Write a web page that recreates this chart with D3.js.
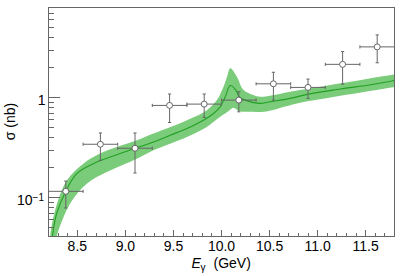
<!DOCTYPE html>
<html><head><meta charset="utf-8">
<script src="https://cdn.jsdelivr.net/npm/d3@7"></script>
<style>body{margin:0;background:#fff}svg{display:block}text{font-family:"Liberation Sans",Arial,Helvetica,sans-serif;fill:#000}</style>
</head><body>
<svg id="c" width="407" height="276"></svg>
<script>
// ---- data points (bin centres, cross sections, asymmetric errors) ----
const pointE     = [8.38, 8.74, 9.10, 9.46, 9.82, 10.18, 10.54, 10.90, 11.26, 11.62];
const pointSigma = [0.116, 0.343, 0.313, 0.839, 0.865, 0.948, 1.38, 1.27, 2.16, 3.23];
const pointUp    = [0.147, 0.445, 0.445, 1.09, 1.09, 1.15, 1.80, 1.54, 2.90, 4.26];
const pointLow   = [0.079, 0.237, 0.177, 0.566, 0.636, 0.724, 0.948, 0.986, 1.37, 2.24];
const binHalf    = [0.18, 0.18, 0.18, 0.18, 0.18, 0.18, 0.18, 0.18, 0.18, 0.18];

// ---- model curve (central) ----
const curveE     = [8.225, 8.240, 8.285, 8.379, 8.494, 8.667, 8.841, 9.101, 9.292, 9.466, 9.640, 9.813, 9.917, 9.986, 10.039, 10.091, 10.15, 10.185, 10.26, 10.333, 10.403, 10.507, 10.716, 10.903, 11.236, 11.57, 11.82];
const curveSigma = [0.030, 0.0409, 0.0696, 0.1157, 0.174, 0.2195, 0.2557, 0.3126, 0.3616, 0.422, 0.493, 0.597, 0.697, 0.812, 1.023, 1.326, 1.195, 1.023, 0.937, 0.895, 0.879, 0.912, 0.986, 1.089, 1.223, 1.357, 1.51];

// ---- uncertainty band edges ----
const bandUpE    = [8.205, 8.216, 8.268, 8.39, 8.5625, 8.736, 8.91, 9.119, 9.292, 9.64, 9.848, 9.952, 10.021, 10.06, 10.091, 10.16, 10.229, 10.333, 10.403, 10.716, 10.82, 11.85];
const bandUpS    = [0.030, 0.041, 0.0746, 0.149, 0.2195, 0.2766, 0.322, 0.376, 0.439, 0.597, 0.752, 0.948, 1.289, 1.652, 1.973, 1.625, 1.195, 1.064, 1.023, 1.149, 1.195, 1.75];
const bandLowE   = [8.265, 8.285, 8.424, 8.598, 8.806, 9.119, 9.292, 9.64, 9.848, 9.986, 10.06, 10.125, 10.185, 10.333, 10.4375, 10.716, 10.82, 11.85];
const bandLowS   = [0.030, 0.0409, 0.0871, 0.1382, 0.1807, 0.2463, 0.2985, 0.406, 0.5114, 0.6446, 0.72, 0.797, 0.7354, 0.7235, 0.7235, 0.8446, 0.891, 1.30];

// ---- axes ----
const xMajor  = [8.5, 9.0, 9.5, 10.0, 10.5, 11.0, 11.5];
const xLabels = ["8.5", "9.0", "9.5", "10.0", "10.5", "11.0", "11.5"];
const yMajor  = [0.1, 1];
const yMinor  = [0.05, 0.06, 0.07, 0.08, 0.09, 0.2, 0.3, 0.4, 0.5, 0.6, 0.7, 0.8, 0.9, 2, 3, 4, 5, 6, 7, 8];

const L = 48.5, R = 394.5, T = 7.5, B = 236.5;
const x = d3.scaleLinear().domain([8.2, 11.8]).range([L, R]);
const y = d3.scaleLog().domain([0.041, 8]).range([B, T]);

const svg = d3.select("#c");
svg.append("defs").append("clipPath").attr("id", "clip")
  .append("rect").attr("x", L).attr("y", T).attr("width", R - L).attr("height", B - T);

const g = svg.append("g").attr("clip-path", "url(#clip)");

// band polygon
const up = bandUpE.map((e, i) => [e, bandUpS[i]]);
const lo = bandLowE.map((e, i) => [e, bandLowS[i]]).reverse();
const lineGen = d3.line().x(d => x(d[0])).y(d => y(d[1])).curve(d3.curveCatmullRom.alpha(0.5));
g.append("path").attr("d", lineGen(up) + "L" + lineGen(lo).slice(1) + "Z")
  .attr("fill", "#7acb7a").attr("stroke", "none");

// central curve
g.append("path").attr("d", lineGen(curveE.map((e, i) => [e, curveSigma[i]])))
  .attr("fill", "none").attr("stroke", "#22a022").attr("stroke-width", 1.1);

// frame
const ax = svg.append("g").attr("stroke", "#666").attr("stroke-width", 1).attr("fill", "none").attr("shape-rendering", "crispEdges");
ax.append("rect").attr("x", L).attr("y", T).attr("width", R - L).attr("height", B - T);

// x ticks
const xMinor = d3.range(82, 119).map(v => v / 10).filter(v => !xMajor.some(m => Math.abs(m - v) < 1e-6));
xMinor.forEach(v => ax.append("line").attr("x1", x(v)).attr("x2", x(v)).attr("y1", B).attr("y2", B - 3.5));
xMajor.forEach(v => ax.append("line").attr("x1", x(v)).attr("x2", x(v)).attr("y1", B).attr("y2", B - 7));
// y ticks
yMinor.forEach(v => ax.append("line").attr("x1", L).attr("x2", L + 5.5).attr("y1", y(v)).attr("y2", y(v)));
yMajor.forEach(v => ax.append("line").attr("x1", L).attr("x2", L + 11).attr("y1", y(v)).attr("y2", y(v)));

// x tick labels
xMajor.forEach((v, i) => svg.append("text").attr("x", x(v)).attr("y", 251)
  .attr("text-anchor", "middle").attr("font-size", 14).text(xLabels[i]));

// y tick labels
svg.append("text").attr("x", 45.5).attr("y", y(1) + 6.8).attr("text-anchor", "end").attr("font-size", 14).text("1");
const t01 = svg.append("text").attr("x", 44).attr("y", y(0.1) + 7.5).attr("text-anchor", "end").attr("font-size", 14);
t01.append("tspan").text("10");
t01.append("tspan").attr("font-size", 10).attr("dy", -4.5).text("\u22121");

// axis titles
const xt = svg.append("text").attr("y", 268).attr("font-size", 14);
xt.append("tspan").attr("x", 191.5).attr("font-style", "italic").text("E");
xt.append("tspan").attr("x", 200.5).attr("dy", 3).attr("font-size", 10).text("\u03b3");
xt.append("tspan").attr("x", 213.5).attr("dy", -3).text("(GeV)");

svg.append("text").attr("transform", "translate(15,121.5) rotate(-90)")
  .attr("text-anchor", "middle").attr("font-size", 14).text("\u03c3 (nb)");

// data points
const pts = svg.append("g").attr("stroke", "#666").attr("stroke-width", 1).attr("fill", "none");
const cap = 1.6;
pointE.forEach((e, i) => {
  const cx = x(e), cy = y(pointSigma[i]);
  const x0 = x(e - binHalf[i]), x1 = x(e + binHalf[i]);
  const y0 = y(pointLow[i]), y1 = y(pointUp[i]);
  pts.append("line").attr("x1", x0).attr("x2", x1).attr("y1", cy).attr("y2", cy);
  pts.append("line").attr("x1", cx).attr("x2", cx).attr("y1", y0).attr("y2", y1);
  pts.append("line").attr("x1", x0).attr("x2", x0).attr("y1", cy - cap).attr("y2", cy + cap);
  pts.append("line").attr("x1", x1).attr("x2", x1).attr("y1", cy - cap).attr("y2", cy + cap);
  pts.append("line").attr("x1", cx - cap).attr("x2", cx + cap).attr("y1", y0).attr("y2", y0);
  pts.append("line").attr("x1", cx - cap).attr("x2", cx + cap).attr("y1", y1).attr("y2", y1);
  pts.append("circle").attr("cx", cx).attr("cy", cy).attr("r", 3).attr("fill", "#fff");
});
</script>
</body></html>
